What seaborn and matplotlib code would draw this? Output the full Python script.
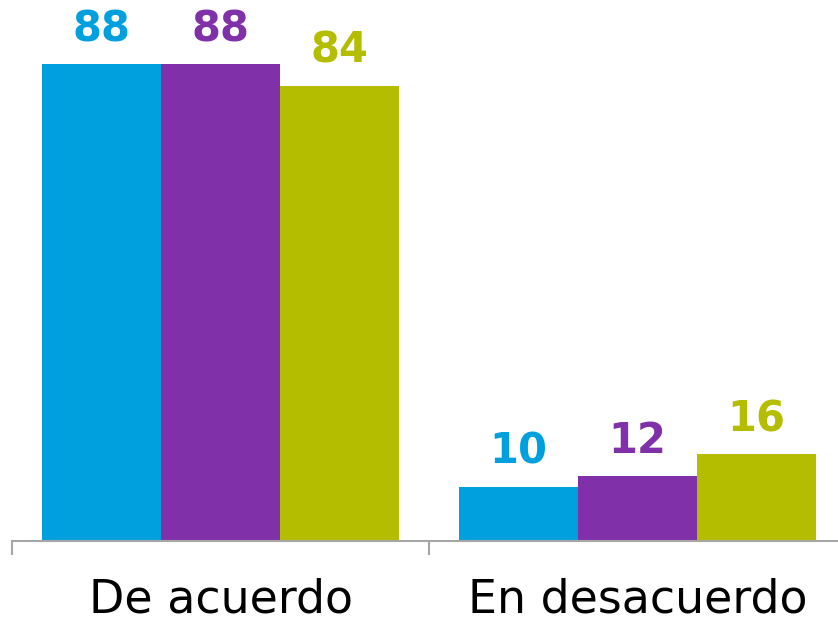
import matplotlib
matplotlib.use("Agg")
import matplotlib.pyplot as plt
import seaborn as sns
import pandas as pd

# data
categories = ["De acuerdo", "En desacuerdo"]
series = ["Serie 1", "Serie 2", "Serie 3"]
values_s1 = [88, 10]
values_s2 = [88, 12]
values_s3 = [84, 16]
colors = ["#00A0DF", "#8030A8", "#B5BD00"]

df = pd.DataFrame({
    "categoria": categories * 3,
    "serie": [series[0]] * 2 + [series[1]] * 2 + [series[2]] * 2,
    "valor": values_s1 + values_s2 + values_s3,
})

sns.set_style("white")
plt.rcParams["font.family"] = ["DejaVu Sans"]

fig = plt.figure(figsize=(8.38, 6.23), dpi=100)
ax = fig.add_axes([12 / 838, 82 / 623, 834 / 838, 542 / 623])

sns.barplot(data=df, x="categoria", y="valor", hue="serie", palette=colors,
            width=0.856, gap=0, saturation=1, errorbar=None, linewidth=0, ax=ax)
ax.get_legend().remove()

for cont, col in zip(ax.containers, colors):
    ax.bar_label(cont, padding=10, color=col, fontsize=30, fontweight="bold")

ax.set_ylim(0, 100)
ax.set_xlim(-0.5, 1.5)
ax.set_xlabel("")
ax.set_ylabel("")
ax.set_yticks([])

# ticks on the category boundaries, labels in between
ax.set_xticks([-0.5, 0.5, 1.5])
ax.set_xticklabels([])
ax.set_xticks([0, 1], minor=True)
ax.set_xticklabels(categories, minor=True, fontsize=33, color="black")
ax.tick_params(axis="x", which="major", length=10, width=1.5, color="#A6A6A6", bottom=True)
ax.tick_params(axis="x", which="minor", length=0, pad=26)

for s in ["top", "right", "left"]:
    ax.spines[s].set_visible(False)
ax.spines["bottom"].set_color("#A6A6A6")
ax.spines["bottom"].set_linewidth(1.5)

fig.savefig("out.png", dpi=100)
